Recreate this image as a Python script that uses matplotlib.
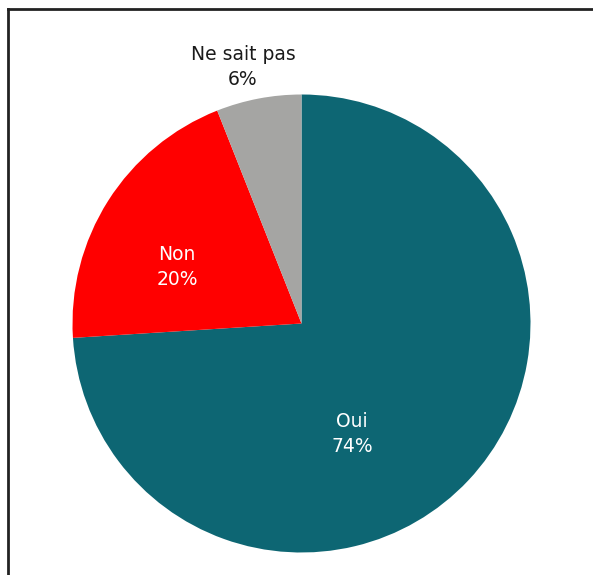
import numpy as np
import matplotlib.pyplot as plt

# Valeurs du sondage
categories = ["Oui", "Non", "Ne sait pas"]
valeurs = [74, 20, 6]
couleurs = ["#0D6673", "#FF0000", "#A5A5A3"]

W, H = 593, 575
fig = plt.figure(figsize=(W / 100, H / 100), dpi=100)
ax = fig.add_axes([0, 0, 1, 1])

# centre et rayon du camembert (en pixels)
cx, cy, r = 301.5, H - 323.5, 229

ax.pie(valeurs, colors=couleurs, startangle=90, counterclock=False,
       center=(cx, cy), radius=r, frame=True,
       wedgeprops=dict(linewidth=0))
ax.set_xlim(0, W)
ax.set_ylim(0, H)
ax.set_aspect("equal")
ax.axis("off")

# etiquettes
police = "DejaVu Sans"
style = dict(ha="center", va="center", fontsize=13.5, family=police, linespacing=1.4)
ax.text(243, H - 67, "Ne sait pas\n6%", color="#1a1a1a", **style)
ax.text(177, H - 267, "Non\n20%", color="white", **style)
ax.text(352, H - 434, "Oui\n74%", color="white", **style)

# cadre (seulement haut et gauche visibles)
ax.plot([8, 8], [0, H - 9], color="#222222", lw=2, solid_capstyle="projecting")
ax.plot([8, W], [H - 9, H - 9], color="#222222", lw=2, solid_capstyle="projecting")

fig.savefig("out.png", dpi=100)
